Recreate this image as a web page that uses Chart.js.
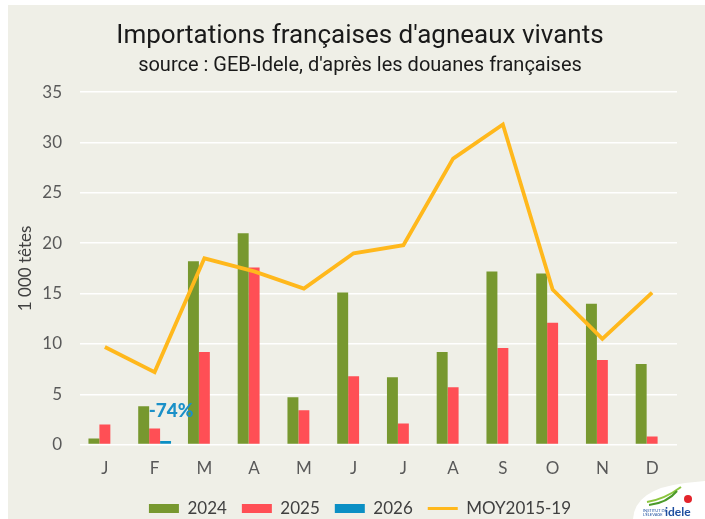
<!DOCTYPE html>
<html lang="fr">
<head>
<meta charset="utf-8">
<title>Importations françaises d'agneaux vivants</title>
<script src="https://cdn.jsdelivr.net/npm/chart.js@4/dist/chart.umd.min.js"></script>
<style>
  html, body { margin: 0; padding: 0; background: #fff; }
  #frame {
    position: absolute; left: 8px; top: 5px;
    width: 697px; height: 514px;
    background: #efefe7;
  }
</style>
</head>
<body>
<div id="frame"><canvas id="chart" width="697" height="514"></canvas></div>
<script>
// Données (1 000 têtes)
const months = ['J', 'F', 'M', 'A', 'M', 'J', 'J', 'A', 'S', 'O', 'N', 'D'];
const imp2024 = [0.6, 3.8, 18.2, 21.0, 4.7, 15.1, 6.7, 9.2, 17.2, 17.0, 14.0, 8.0];
const imp2025 = [2.0, 1.6, 9.2, 17.6, 3.4, 6.8, 2.1, 5.7, 9.6, 12.1, 8.4, 0.8];
const imp2026 = [null, 0.35, null, null, null, null, null, null, null, null, null, null];
const moy2015_19 = [9.7, 7.2, 18.5, 17.2, 15.5, 19.0, 19.8, 28.4, 31.8, 15.4, 10.5, 15.1];
const yTicks = [0, 5, 10, 15, 20, 25, 30, 35];

// annotation : évolution février 2026 / 2025
const noteText = '-74%';
const noteMonth = 1;
const noteValue = 3.3;

const C_2024 = '#77982f', C_2025 = '#ff4f55', C_2026 = '#0b8fc4', C_MOY = '#ffb81c';

// petit texte "-74%" + logo
const extras = {
  id: 'extras',
  afterDatasetsDraw(chart) {
    const {ctx, scales} = chart;
    const x = scales.x.getPixelForValue(noteMonth);
    const y = scales.y.getPixelForValue(noteValue);
    ctx.save();
    ctx.font = '900 19px Lato';
    ctx.fillStyle = '#1a90c8';
    ctx.textAlign = 'left';
    ctx.textBaseline = 'middle';
    ctx.fillText(noteText, x - 6, y);
    ctx.restore();
  },
  afterDraw(chart) {
    const ctx = chart.ctx;
    const w = chart.width, h = chart.height;
    ctx.save();
    // logo Idele (approximation)
    ctx.fillStyle = '#ffffff';
    ctx.beginPath();
    ctx.moveTo(w - 72, h);
    ctx.quadraticCurveTo(w - 70, h - 30, w - 20, h - 36);
    ctx.lineTo(w, h - 38);
    ctx.lineTo(w, h);
    ctx.closePath();
    ctx.fill();
    ctx.strokeStyle = '#8cc63f';
    ctx.lineWidth = 2;
    ctx.beginPath();
    ctx.moveTo(w - 58, h - 17);
    ctx.quadraticCurveTo(w - 40, h - 20, w - 24, h - 32);
    ctx.stroke();
    ctx.strokeStyle = '#4a9a2a';
    ctx.beginPath();
    ctx.moveTo(w - 56, h - 14);
    ctx.quadraticCurveTo(w - 38, h - 16, w - 28, h - 28);
    ctx.stroke();
    ctx.fillStyle = '#e3242b';
    ctx.beginPath();
    ctx.arc(w - 17, h - 20, 4, 0, 2 * Math.PI);
    ctx.fill();
    ctx.fillStyle = '#1f4fa0';
    ctx.font = 'bold 12px Lato';
    ctx.textBaseline = 'alphabetic';
    ctx.fillText('idele', w - 40, h - 3);
    ctx.font = '4px Lato';
    ctx.fillText('INSTITUT DE', w - 62, h - 7);
    ctx.fillText("L'ÉLEVAGE", w - 62, h - 3);
    ctx.restore();
  }
};

new Chart(document.getElementById('chart'), {
  data: {
    labels: months,
    datasets: [
      {type: 'line', label: 'MOY2015-19', data: moy2015_19, borderColor: C_MOY, backgroundColor: C_MOY,
       borderWidth: 3.8, pointRadius: 0, tension: 0, order: 0},
      {type: 'bar', label: '2024', data: imp2024, backgroundColor: C_2024, order: 1},
      {type: 'bar', label: '2025', data: imp2025, backgroundColor: C_2025, order: 1},
      {type: 'bar', label: '2026', data: imp2026, backgroundColor: C_2026, order: 1}
    ]
  },
  options: {
    responsive: false,
    animation: false,
    layout: {padding: {left: 7, right: 0, top: 0, bottom: -8}},
    datasets: {bar: {categoryPercentage: 0.66, barPercentage: 1}},
    plugins: {
      title: {
        display: true,
        text: "Importations françaises d'agneaux vivants",
        color: '#1a1a1a',
        font: {family: 'Roboto', size: 26, weight: 'normal'},
        padding: {top: 16, bottom: 2}
      },
      subtitle: {
        display: true,
        text: "source : GEB-Idele, d'après les douanes françaises",
        color: '#1a1a1a',
        font: {family: 'Roboto', size: 20},
        padding: {bottom: 14}
      },
      legend: {
        position: 'bottom',
        labels: {
          color: '#404040',
          font: {family: 'Lato', size: 17},
          usePointStyle: true,
          pointStyleWidth: 30,
          boxHeight: 9,
          padding: 15,
          sort: (a, b) => (a.text === 'MOY2015-19') - (b.text === 'MOY2015-19'),
          generateLabels(chart) {
            const items = Chart.defaults.plugins.legend.labels.generateLabels(chart);
            return items.map(it => {
              const ds = chart.data.datasets[it.datasetIndex];
              if (ds.type === 'line') {
                it.pointStyle = 'line';
                it.lineWidth = 3;
                it.strokeStyle = C_MOY;
              } else {
                it.pointStyle = 'rect';
                it.lineWidth = 0;
              }
              return it;
            });
          }
        }
      },
      tooltip: {enabled: false}
    },
    scales: {
      x: {
        grid: {display: false},
        border: {display: false},
        ticks: {color: '#595959', font: {family: 'Lato', size: 17}, padding: 6}
      },
      y: {
        min: 0, max: 35,
        afterBuildTicks: axis => { axis.ticks = yTicks.map(v => ({value: v})); },
        afterFit: axis => { axis.width = 65; },
        grid: {color: '#ffffff', lineWidth: 1.5, drawTicks: false},
        border: {display: false},
        ticks: {color: '#595959', font: {family: 'Lato', size: 17}, padding: 18},
        title: {display: true, text: '1 000 têtes', color: '#404040',
                font: {family: 'Lato', size: 17}, padding: 0}
      },
      // marge droite invisible
      yRight: {
        position: 'right', display: true,
        grid: {display: false}, border: {display: false}, ticks: {display: false},
        afterFit: axis => { axis.width = 28; }
      }
    }
  },
  plugins: [extras]
});
</script>
</body>
</html>
